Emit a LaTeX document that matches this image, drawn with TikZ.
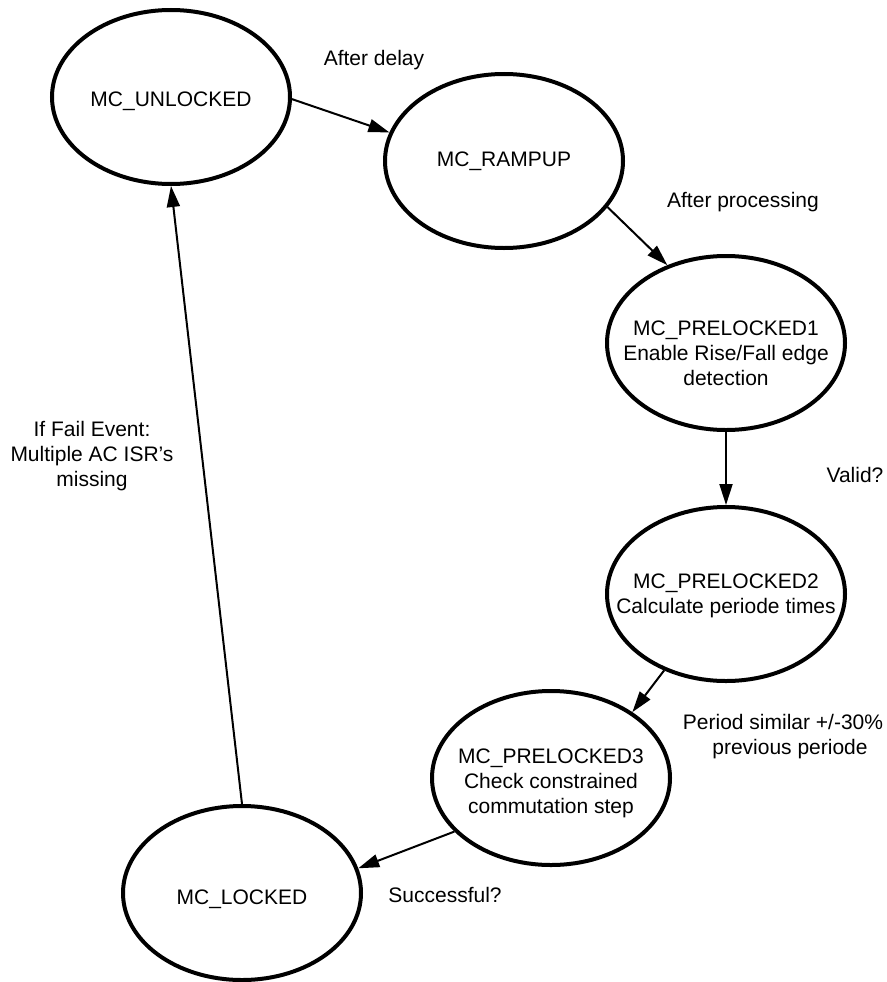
\documentclass[tikz,border=0pt]{standalone}
\usepackage{fontspec}
\setmainfont{Liberation Sans}
\usetikzlibrary{shapes.geometric,arrows.meta}
\begin{document}
\begin{tikzpicture}[x=1pt,y=-1pt,
  state/.style={ellipse,draw=black,line width=4pt,minimum width=238pt,minimum height=174pt,inner sep=0pt},
  lbl/.style={align=center,font=\fontsize{21}{25}\selectfont,inner sep=0pt},
  trans/.style={line width=2pt,-{Triangle[length=21pt,width=13pt]}}]
\useasboundingbox (0,0) rectangle (886,982);
\node[state] (u) at (171,97) {};
\node[state] (r) at (504,161) {};
\node[state] (p1) at (726,343) {};
\node[state] (p2) at (726,594) {};
\node[state] (p3) at (551,778) {};
\node[state] (l) at (242,893) {};

\node[lbl] (ut) at ([yshift=-4pt]u.center) {MC\_UNLOCKED};
\node[lbl] (rt) at ([yshift=0pt]r.center) {MC\_RAMPUP};
\node[lbl] (p1t) at ([yshift=-10pt]p1.center) {MC\_PRELOCKED1\\Enable Rise/Fall edge\\detection};
\node[lbl] (p2t) at ([yshift=-2pt]p2.center) {MC\_PRELOCKED2\\Calculate periode times};
\node[lbl] (p3t) at ([yshift=-5pt]p3.center) {MC\_PRELOCKED3\\Check constrained\\commutation step};
\node[lbl] (lt) at ([yshift=-6pt]l.center) {MC\_LOCKED};

\node[lbl] (t1) at (374,60) {After delay};
\node[lbl] (t2) at (743,202) {After processing};
\node[lbl] (t3) at (855,475) {Valid?};
\node[lbl] (t4) at (783,737) {Period similar +/-30\%\\\hspace*{14pt}previous periode};
\node[lbl] (t5) at (445,895) {Successful?};
\node[lbl] (t6) at (92,456) {If Fail Event:\\Multiple AC ISR’s\\missing};

\draw[trans] (u.-1) -- (r.166);
\draw[trans] (r.-24) -- (p1.127);
\draw[trans] (p1.south) -- (p2.north);
\draw[trans] (p2.-129) -- (p3.39);
\draw[trans] (p3.209) -- (l.12);
\draw[trans] (l.north) -- (u.south);
\end{tikzpicture}
\end{document}
